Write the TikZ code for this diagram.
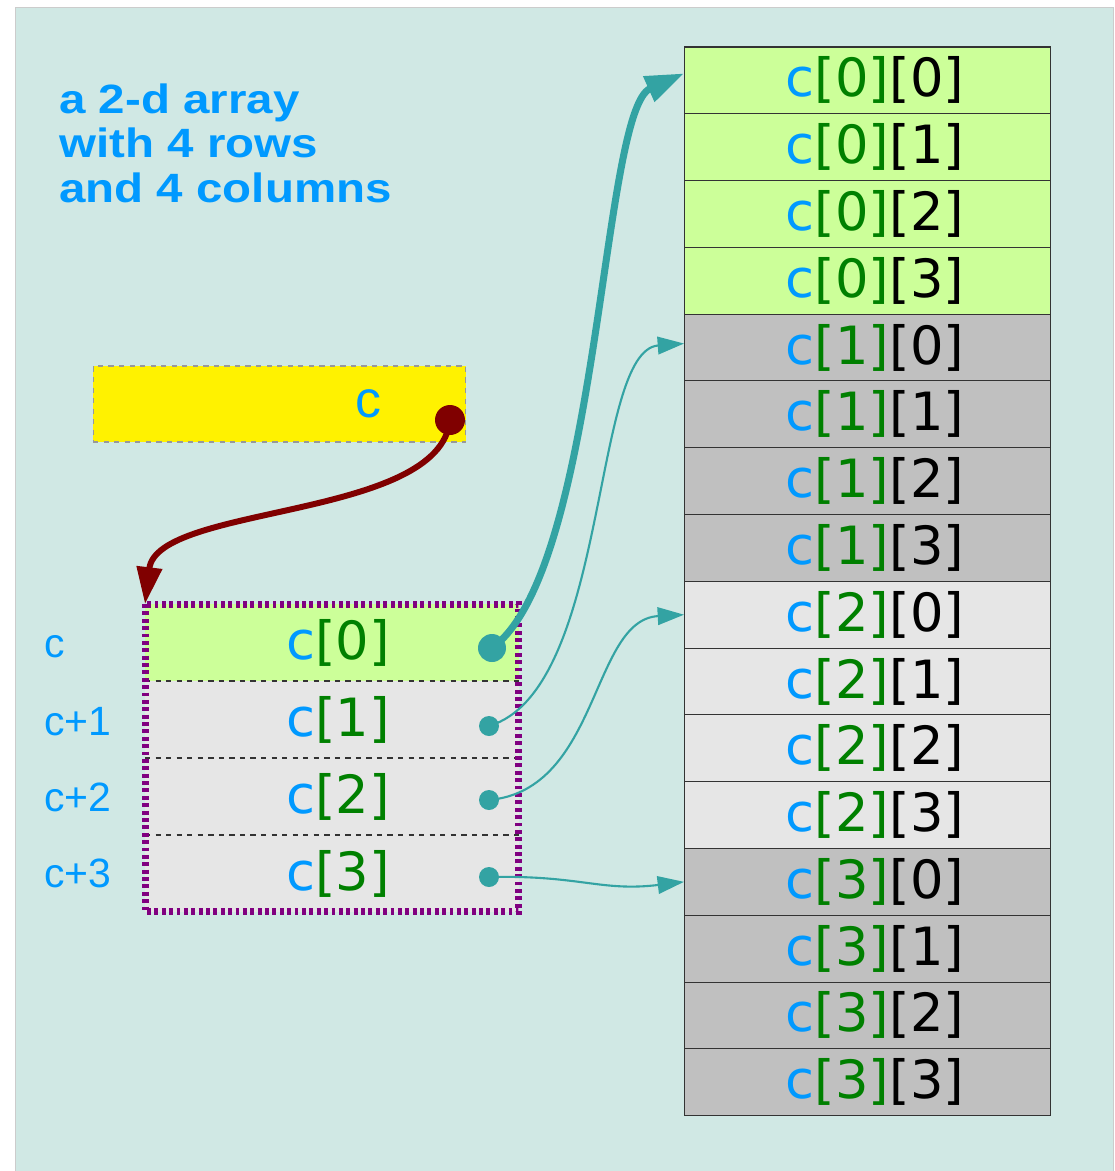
\documentclass[tikz,border=0pt]{standalone}
\usepackage{fontspec}
\setmainfont{DejaVu Sans}
\newfontfamily\titlefont{Liberation Sans}[FakeStretch=1.16]
\newfontfamily\labelfont{Liberation Sans}
\usetikzlibrary{arrows.meta, positioning}

\definecolor{bgteal}{RGB}{208,232,228}
\definecolor{cblue}{RGB}{0,153,255}
\definecolor{cgreen}{RGB}{0,128,0}
\definecolor{rowgreen}{RGB}{204,255,153}
\definecolor{rowgrey}{RGB}{192,192,192}
\definecolor{rowlight}{RGB}{230,230,230}
\definecolor{ptrteal}{RGB}{51,163,163}
\definecolor{ptrred}{RGB}{128,0,0}
\definecolor{boxpurple}{RGB}{128,0,128}

\newcommand{\elem}[2]{\hspace*{0.3cm}\textcolor{cblue}{c}\textcolor{cgreen}{[#1]}[#2]}
\newcommand{\rowref}[1]{\hspace*{0.24cm}\textcolor{cblue}{c}\textcolor{cgreen}{[#1]}}

\begin{document}
\begin{tikzpicture}[
    x=0.02cm, y=-0.02cm,
    node distance=0cm,
    cell/.style={rectangle, draw=black!80, line width=0.6pt, minimum width=7.34cm, minimum height=1.336cm, inner sep=0pt, outer sep=0pt, text centered, font=\fontsize{30}{32}\selectfont},
    rowcell/.style={rectangle, minimum width=7.48cm, minimum height=1.54cm, inner sep=0pt, outer sep=0pt, text centered, font=\fontsize{30}{32}\selectfont},
    rowsep/.style={dashed, line width=0.6pt, black!80},
    dotborder/.style={draw=boxpurple, line width=4pt, dash pattern=on 2.2pt off 2pt},
    sidelabel/.style={anchor=base west, inner sep=0pt, text=cblue, font=\labelfont\fontsize{23.3}{26}\selectfont},
    dotbig/.style={circle, fill=ptrteal, minimum size=0.56cm, inner sep=0pt},
    dotsmall/.style={circle, fill=ptrteal, minimum size=0.4cm, inner sep=0pt},
    thickarrow/.style={ptrteal, line width=4pt, -{Triangle[length=22pt, width=15pt]}},
    thinarrow/.style={ptrteal, line width=1.2pt, -{Triangle[length=15pt, width=10pt]}},
    redarrow/.style={ptrred, line width=3.4pt, -{Triangle[length=21pt, width=14pt]}}
]
\useasboundingbox (0,0) rectangle (1115,1171);
\fill[bgteal, draw=black!20] (15,7) rectangle (1113,1172);

% title
\node (title) [anchor=base west, inner sep=0pt, align=left, text=cblue, font=\titlefont\bfseries\fontsize{23.3}{25.2}\selectfont] at (59,202) {a 2-d array\\with 4 rows\\and 4 columns};

% pointer c
\node (ptr) [rectangle, minimum width=7.46cm, minimum height=1.52cm, fill=yellow, draw=black!40, dashed, line width=0.6pt] at (279.5,404) {};
\node (ptrname) [text=cblue, font=\labelfont\fontsize{29.5}{32}\selectfont] at (368,404) {c};
\node (ptrdot) [circle, fill=ptrred, minimum size=0.6cm, inner sep=0pt] at (450,420) {};

% the 4 row pointers
\node (p0) [rowcell, fill=rowgreen] at (332,642.5) {\rowref{0}};
\node (p1) [rowcell, fill=rowlight, below=of p0] {\rowref{1}};
\node (p2) [rowcell, fill=rowlight, below=of p1] {\rowref{2}};
\node (p3) [rowcell, fill=rowlight, below=of p2] {\rowref{3}};
\draw [rowsep] (p0.south west) -- (p0.south east);
\draw [rowsep] (p1.south west) -- (p1.south east);
\draw [rowsep] (p2.south west) -- (p2.south east);
\draw [dotborder] (p0.north west) rectangle (p3.south east);

\node (l0) [sidelabel] at (44,657) {c};
\node (l1) [sidelabel] at (44,735) {c+1};
\node (l2) [sidelabel] at (44,811) {c+2};
\node (l3) [sidelabel] at (44,887) {c+3};

% the 16 elements
\node (c00) [cell, fill=rowgreen] at (867.5,80.4) {\elem{0}{0}};
\node (c01) [cell, fill=rowgreen, below=of c00] {\elem{0}{1}};
\node (c02) [cell, fill=rowgreen, below=of c01] {\elem{0}{2}};
\node (c03) [cell, fill=rowgreen, below=of c02] {\elem{0}{3}};
\node (c10) [cell, fill=rowgrey, below=of c03] {\elem{1}{0}};
\node (c11) [cell, fill=rowgrey, below=of c10] {\elem{1}{1}};
\node (c12) [cell, fill=rowgrey, below=of c11] {\elem{1}{2}};
\node (c13) [cell, fill=rowgrey, below=of c12] {\elem{1}{3}};
\node (c20) [cell, fill=rowlight, below=of c13] {\elem{2}{0}};
\node (c21) [cell, fill=rowlight, below=of c20] {\elem{2}{1}};
\node (c22) [cell, fill=rowlight, below=of c21] {\elem{2}{2}};
\node (c23) [cell, fill=rowlight, below=of c22] {\elem{2}{3}};
\node (c30) [cell, fill=rowgrey, below=of c23] {\elem{3}{0}};
\node (c31) [cell, fill=rowgrey, below=of c30] {\elem{3}{1}};
\node (c32) [cell, fill=rowgrey, below=of c31] {\elem{3}{2}};
\node (c33) [cell, fill=rowgrey, below=of c32] {\elem{3}{3}};

% pointers
\node (d0) [dotbig] at (492,648) {};
\node (d1) [dotsmall] at (489,726) {};
\node (d2) [dotsmall] at (489,800) {};
\node (d3) [dotsmall] at (489,877) {};

\draw [redarrow] (ptrdot.center) .. controls +(-10,100) and +(12,-100) .. (p0.north west);
\draw [thickarrow] (d0.center) .. controls +(108,-78) and +(-83,37) .. ([yshift=0.14cm]c00.west);
\draw [thinarrow] (d1.center) .. controls +(121,-36) and +(-93,7) .. ([yshift=0.08cm]c10.west);
\draw [thinarrow] (d2.center) .. controls +(111,-10) and +(-93,5) .. (c20.west);
\draw [thinarrow] (d3.center) .. controls +(91,-2) and +(-83,10) .. (c30.west);
\end{tikzpicture}
\end{document}
